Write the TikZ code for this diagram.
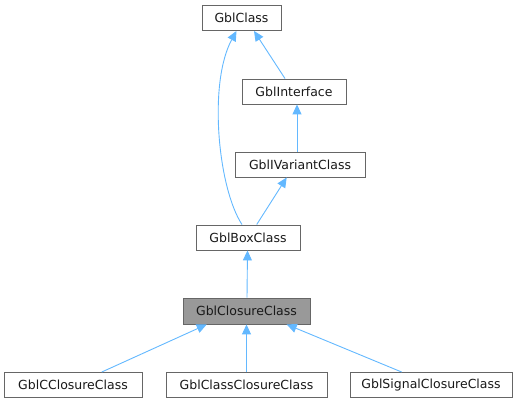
\documentclass[tikz,border=0pt]{standalone}
\usepackage{fontspec}
\setmainfont{DejaVu Sans}
\usetikzlibrary{arrows.meta}
\definecolor{edgeblue}{HTML}{63B8FF}
\definecolor{boxline}{HTML}{666666}
\definecolor{hlfill}{HTML}{999999}
\begin{document}
\begin{tikzpicture}[x=1pt,y=1pt,
  cls/.style={draw=boxline, fill=white, line width=0.9pt, inner sep=0pt, minimum height=25pt, font=\fontsize{12.5}{14}\selectfont, text=black!90},
  hl/.style={cls, fill=hlfill},
  inh/.style={draw=edgeblue, line width=0.9pt, -{Triangle[length=10pt,width=9pt,fill=edgeblue]}}
]
\useasboundingbox (0,0) rectangle (527,403);
\node[cls, minimum width=79pt] (gcls) at (241.5,385) {GblClass};
\node[cls, minimum width=104pt] (iface) at (294,311.5) {GblInterface};
\node[cls, minimum width=130pt] (ivar) at (300,238.5) {GblIVariantClass};
\node[cls, minimum width=104pt] (box) at (248,165.5) {GblBoxClass};
\node[hl, minimum width=127pt, minimum height=26pt] (clo) at (246.5,92) {GblClosureClass};
\node[cls, minimum width=138pt] (cc) at (73,18) {GblCClosureClass};
\node[cls, minimum width=161pt] (ccc) at (246.5,18) {GblClassClosureClass};
\node[cls, minimum width=162pt] (sig) at (431,18) {GblSignalClosureClass};

\draw[inh] ([xshift=-9pt]iface.north) -- ([xshift=12.5pt]gcls.south);
\draw[inh] ([xshift=-6pt]box.north) .. controls (218,215) and (208,320) .. ([xshift=-5pt]gcls.south);
\draw[inh] ([xshift=-3pt]ivar.north) -- ([xshift=3pt]iface.south);
\draw[inh] ([xshift=8.7pt]box.north) -- ([xshift=-13.3pt]ivar.south);
\draw[inh] ([xshift=0.5pt]clo.north) -- ([xshift=-0.5pt]box.south);
\draw[inh] ([xshift=28.7pt]cc.north) -- ([xshift=-39.8pt]clo.south);
\draw[inh] (ccc.north) -- (clo.south);
\draw[inh] ([xshift=-29.3pt]sig.north) -- ([xshift=40.2pt]clo.south);
\end{tikzpicture}
\end{document}
